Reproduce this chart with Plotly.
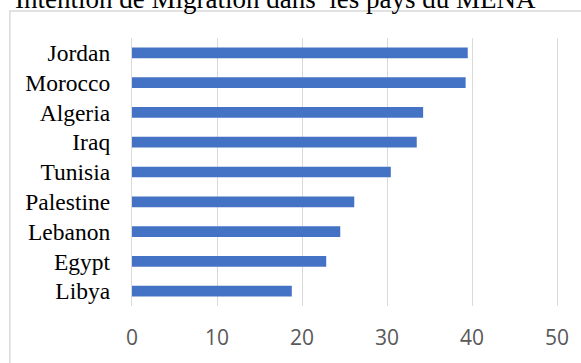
import plotly.graph_objects as go

countries = ["Jordan", "Morocco", "Algeria", "Iraq", "Tunisia", "Palestine", "Lebanon", "Egypt", "Libya"]
values = [39.5, 39.25, 34.25, 33.5, 30.45, 26.15, 24.5, 22.85, 18.8]
x_ticks = [0, 10, 20, 30, 40, 50]
title_text = "Intention de Migration dans\u00a0 les pays du MENA"

W, H = 581, 363
L, R, T, B = 131.7, 15.3, 38, 56
pw = W - L - R
ph = H - T - B

def px_x(p):
    return (p - L) / pw

def px_y(p):
    return (H - B - p) / ph

fig = go.Figure(go.Bar(
    x=values, y=countries, orientation="h",
    marker=dict(color="#4472C4", line=dict(width=0)),
    width=0.36,
))

fig.update_layout(
    width=W, height=H,
    margin=dict(l=L, r=R, t=T, b=B, pad=0),
    paper_bgcolor="white", plot_bgcolor="white",
    showlegend=False,
    xaxis=dict(range=[0, 50], tickvals=x_ticks, showgrid=True, gridcolor="#d9d9d9", gridwidth=1.3,
               zeroline=False, showline=False, ticks="",
               tickfont=dict(family="Open Sans", size=21, color="#595959"),
               ticklabelstandoff=17),
    yaxis=dict(autorange="reversed", showgrid=False, zeroline=False,
               showline=True, linecolor="#d9d9d9", linewidth=1.3, mirror=True, ticks="",
               tickfont=dict(family="Liberation Serif", size=23.5, color="black"),
               ticklabelstandoff=16, layer="below traces"),
    shapes=[dict(type="rect", xref="paper", yref="paper",
                 x0=px_x(7), x1=px_x(600), y0=px_y(10.8), y1=px_y(380),
                 line=dict(color="#d9d9d9", width=1.5), fillcolor="rgba(0,0,0,0)", layer="below")],
    annotations=[dict(text=title_text, xref="paper", yref="paper", x=px_x(10), y=px_y(-1),
                      xanchor="left", yanchor="middle", showarrow=False,
                      font=dict(family="Liberation Serif", size=27, color="black"))],
)

fig.write_html("out.html")
